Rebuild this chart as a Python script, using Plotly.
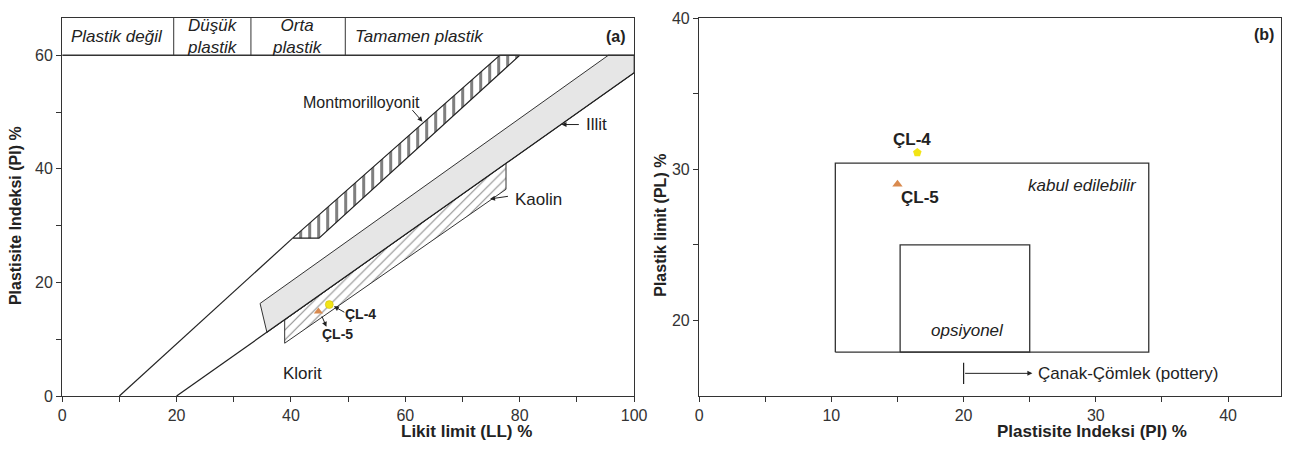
import plotly.graph_objects as go

# ---------------- Left panel (a) data ----------------
upper_line_ll = [10, 40.3]
upper_line_pi = [0, 27.8]
lower_line_ll = [20, 100]
lower_line_pi = [0, 56.9]
mont_ll = [40.3, 76.5, 80.0, 44.9, 40.3]
mont_pi = [27.8, 60, 60, 27.8, 27.8]
illit_ll = [34.6, 95.5, 100, 100, 35.8, 34.6]
illit_pi = [16.3, 60, 60, 56.9, 11.2, 16.3]
kaolin_ll = [38.9, 77.6, 77.6, 38.9, 38.9]
kaolin_pi = [13.4, 41.0, 36.4, 9.3, 13.4]
samples = ["ÇL-4", "ÇL-5"]
sample_ll = [46.7, 44.8]
sample_pi_a = [16.1, 14.9]
zone_bounds = [19.5, 33, 49.5]
zone_centers = [9.5, 26.2, 41.2]
zone_labels = ["Plastik değil", "Düşük<br>plastik", "Orta<br>plastik"]
zone_full = "Tamamen plastik"

# ---------------- Right panel (b) data ----------------
sample_pi_b = [16.5, 15.0]
sample_pl = [31.1, 29.0]
accept_pi = [10.3, 34.0]
accept_pl = [17.9, 30.4]
option_pi = [15.2, 25.0]
option_pl = [17.9, 25.0]
pottery_pi = [20, 25.2]
pottery_pl = 16.5

FONT = "Liberation Sans, Arial, sans-serif"
C4 = "#f2e415"
C5 = "#d98a4e"

W, H = 1294, 450
# measured page-to-photo mapping (the page is shown slightly reduced and offset)
SX, OX, SY, OY = 0.987, 3.8, 0.9676, 5.8
def fx(px):
    return min(1.0, max(0.0, ((px - OX) / SX) / W))
def fy(py):
    py = 10 + (py - 4) * 0.98469
    return min(1.0, max(0.0, 1 - ((py - OY) / SY) / H))

fig = go.Figure()

fig.add_trace(go.Scatter(x=kaolin_ll, y=kaolin_pi, mode="lines", fill="toself",
                         fillcolor="rgba(0,0,0,0)",
                         fillpattern=dict(shape="/", size=7, solidity=0.17, fgcolor="#222", bgcolor="white"),
                         line=dict(color="#333", width=1), hoverinfo="skip", showlegend=False))
fig.add_trace(go.Scatter(x=illit_ll, y=illit_pi, mode="lines", fill="toself", fillcolor="#e6e6e6",
                         line=dict(color="#333", width=1), hoverinfo="skip", showlegend=False))
fig.add_trace(go.Scatter(x=mont_ll, y=mont_pi, mode="lines", fill="toself",
                         fillcolor="rgba(0,0,0,0)",
                         fillpattern=dict(shape="|", size=9, solidity=0.34, fgcolor="#000", bgcolor="white"),
                         line=dict(color="#222", width=1.2), hoverinfo="skip", showlegend=False))
fig.add_trace(go.Scatter(x=upper_line_ll, y=upper_line_pi, mode="lines",
                         line=dict(color="#222", width=1.2), hoverinfo="skip", showlegend=False))
fig.add_trace(go.Scatter(x=lower_line_ll, y=lower_line_pi, mode="lines",
                         line=dict(color="#222", width=1.2), hoverinfo="skip", showlegend=False))
fig.add_trace(go.Scatter(x=[sample_ll[0]], y=[sample_pi_a[0]], mode="markers",
                         marker=dict(symbol="circle", size=8, color=C4, line=dict(color="#c9b800", width=0.5)),
                         showlegend=False))
fig.add_trace(go.Scatter(x=[sample_ll[1]], y=[sample_pi_a[1]], mode="markers",
                         marker=dict(symbol="triangle-up", size=8, color=C5, line=dict(width=0)),
                         showlegend=False))

fig.add_trace(go.Scatter(x=[accept_pi[0], accept_pi[1], accept_pi[1], accept_pi[0], accept_pi[0]],
                         y=[accept_pl[0], accept_pl[0], accept_pl[1], accept_pl[1], accept_pl[0]],
                         mode="lines", line=dict(color="#333", width=1.3), xaxis="x2", yaxis="y2",
                         hoverinfo="skip", showlegend=False))
fig.add_trace(go.Scatter(x=[option_pi[0], option_pi[1], option_pi[1], option_pi[0], option_pi[0]],
                         y=[option_pl[0], option_pl[0], option_pl[1], option_pl[1], option_pl[0]],
                         mode="lines", line=dict(color="#333", width=1.3), xaxis="x2", yaxis="y2",
                         hoverinfo="skip", showlegend=False))
fig.add_trace(go.Scatter(x=[sample_pi_b[0]], y=[sample_pl[0]], mode="markers",
                         marker=dict(symbol="pentagon", size=9, color=C4, line=dict(width=0)),
                         xaxis="x2", yaxis="y2", showlegend=False))
fig.add_trace(go.Scatter(x=[sample_pi_b[1]], y=[sample_pl[1]], mode="markers",
                         marker=dict(symbol="triangle-up", size=9, color=C5, line=dict(width=0)),
                         xaxis="x2", yaxis="y2", showlegend=False))
fig.add_trace(go.Scatter(x=[pottery_pi[0], pottery_pi[0]], y=[pottery_pl - 0.7, pottery_pl + 0.7],
                         mode="lines", line=dict(color="#222", width=1.2), xaxis="x2", yaxis="y2",
                         hoverinfo="skip", showlegend=False))

shapes = []
shapes.append(dict(type="line", xref="x", yref="y", x0=0, x1=100, y0=60, y1=60,
                   line=dict(color="#333", width=1.3)))
for b in zone_bounds:
    shapes.append(dict(type="line", xref="x", yref="y", x0=b, x1=b, y0=60, y1=66.55,
                       line=dict(color="#333", width=1)))

ann = []
def t(x, y, text, ref="", size=17, bold=False, italic=False, xanchor="center", color="#222"):
    if bold:
        text = "<b>" + text + "</b>"
    if italic:
        text = "<i>" + text + "</i>"
    ann.append(dict(x=x, y=y, xref="x" + ref, yref="y" + ref, text=text, showarrow=False,
                    xanchor=xanchor, yanchor="middle",
                    font=dict(family=FONT, size=size, color=color)))

def arrow(x, y, ax, ay, ref=""):
    ann.append(dict(x=x, y=y, ax=ax, ay=ay, xref="x" + ref, yref="y" + ref,
                    axref="x" + ref, ayref="y" + ref, text="", showarrow=True,
                    arrowhead=2, arrowsize=1, arrowwidth=1, arrowcolor="#222"))

for c, lab in zip(zone_centers, zone_labels):
    t(c, 63.3, lab, italic=True, size=17)
t(50.8, 63.3, zone_full, italic=True, size=17, xanchor="left")
t(99, 63.3, "(a)", bold=True, size=16, xanchor="right")

t(52.4, 51.6, "Montmorilloyonit", size=16)
arrow(63.0, 48.3, 61.0, 50.6)
t(91.2, 47.8, "Illit", size=17, xanchor="left")
arrow(87.3, 47.8, 90.6, 47.8)
t(78.8, 34.6, "Kaolin", size=17, xanchor="left")
arrow(74.8, 34.7, 78.2, 35.2)
t(42.1, 4.0, "Klorit", size=17)
t(52.1, 14.5, "ÇL-4", size=14, bold=True)
arrow(47.5, 15.8, 49.6, 14.6)
t(48.2, 10.9, "ÇL-5", size=14, bold=True)
arrow(46.2, 12.2, 45.3, 14.3)

t(16.1, 32.0, "ÇL-4", ref="2", size=17, bold=True)
t(16.7, 28.15, "ÇL-5", ref="2", size=17, bold=True)
t(33.3, 28.9, "kabul edilebilir", ref="2", size=17, italic=True, xanchor="right")
t(20.3, 19.35, "opsiyonel", ref="2", size=17, italic=True)
t(25.5, pottery_pl, "Çanak-Çömlek (pottery)", ref="2", size=17, xanchor="left")
arrow(pottery_pi[1], pottery_pl, pottery_pi[0], pottery_pl, ref="2")
t(43.6, 38.9, "(b)", ref="2", size=16, bold=True, xanchor="right")

def title(xp, yp, text, angle=0, size=17):
    ann.append(dict(x=fx(xp), y=fy(yp), xref="paper", yref="paper", text="<b>" + text + "</b>",
                    textangle=angle, xanchor="center", yanchor="middle",
                    showarrow=False, font=dict(family=FONT, size=size, color="#222")))

title(466, 432, "Likit limit (LL) %")
title(1092, 432, "Plastisite Indeksi (PI) %")
title(16, 212, "Plastisite Indeksi (PI) %", angle=-90, size=16)
title(661, 222, "Plastik limit (PL) %", angle=-90, size=16)

axis_common = dict(showline=True, mirror=True, linecolor="#333", linewidth=1.3, showgrid=False,
                   zeroline=False, ticks="outside", ticklen=5, tickcolor="#333",
                   tickfont=dict(family=FONT, size=16, color="#333"))

fig.update_layout(
    width=W, height=H,
    margin=dict(l=0, r=0, t=0, b=0),
    paper_bgcolor="white", plot_bgcolor="white",
    showlegend=False,
    xaxis=dict(domain=[fx(62), fx(634)], range=[0, 100], tickvals=[0, 20, 40, 60, 80, 100],
               minor=dict(dtick=10, ticks="outside", ticklen=5, tickcolor="#333"),
               anchor="y", **axis_common),
    yaxis=dict(domain=[fy(396), fy(10)], range=[0, 66.55], tickvals=[0, 20, 40, 60],
               minor=dict(tickvals=[10, 30, 50], ticks="outside", ticklen=5, tickcolor="#333"),
               anchor="x", **axis_common),
    xaxis2=dict(domain=[fx(699), fx(1287)], range=[0, 44.0], tickvals=[0, 10, 20, 30, 40],
                minor=dict(dtick=5, ticks="outside", ticklen=5, tickcolor="#333"),
                anchor="y2", **axis_common),
    yaxis2=dict(domain=[fy(396), fy(10)], range=[15, 40], tickvals=[20, 30, 40],
                minor=dict(tickvals=[25, 35], ticks="outside", ticklen=5, tickcolor="#333"),
                anchor="x2", **axis_common),
    shapes=shapes,
    annotations=ann,
)

fig.write_html("out.html")
